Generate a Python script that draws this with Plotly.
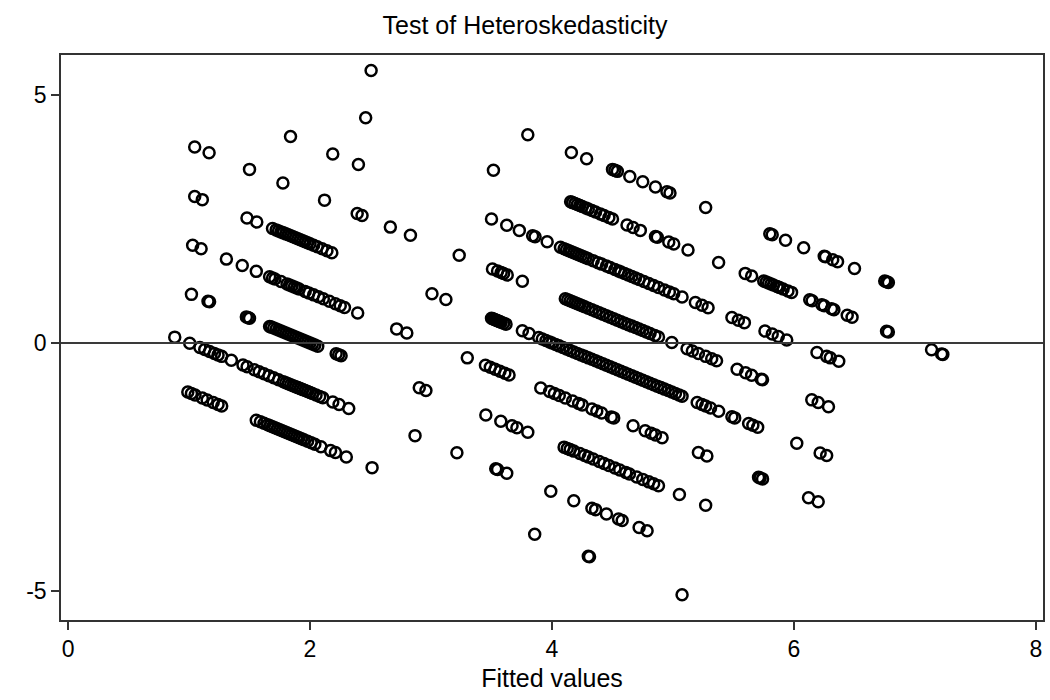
import plotly.graph_objects as go

# Fitted values grouped by observed outcome (residual = observed - fitted)
fit_obs8 = [2.505, 3.80, 4.16, 4.286, 4.50, 4.52, 4.54, 4.643, 4.75, 4.855, 4.95, 4.975, 5.27,
            5.80, 5.82, 5.93, 6.08, 6.25, 6.26, 6.32, 6.36, 6.50, 6.75, 6.765, 6.78]
fit_obs7 = [2.46, 3.516, 4.154, 4.17, 4.19, 4.21, 4.23, 4.25, 4.28, 4.30, 4.33, 4.36, 4.40, 4.43,
            4.47, 4.50, 4.62, 4.67, 4.73, 4.855, 4.87, 4.965, 5.006, 5.124, 5.377, 5.597, 5.65,
            5.75, 5.77, 5.79, 5.81, 5.83, 5.86, 5.88, 5.91, 5.95, 5.98, 6.13, 6.15, 6.23, 6.25,
            6.31, 6.33, 6.44, 6.48, 6.765, 6.78, 7.137, 7.22, 7.23]
fit_obs6 = [1.839, 2.188, 2.40, 3.50, 3.626, 3.73, 3.84, 3.86, 3.96,
            4.07, 4.10, 4.12, 4.14, 4.16, 4.18, 4.20, 4.22, 4.24, 4.26, 4.28, 4.30, 4.34, 4.38,
            4.41, 4.45, 4.48, 4.52, 4.55, 4.57, 4.60, 4.63, 4.66, 4.69, 4.72, 4.76, 4.80, 4.84,
            4.88, 4.93, 4.97, 5.006, 5.075, 5.185, 5.24, 5.29, 5.487, 5.54, 5.59,
            5.76, 5.82, 5.87, 5.94, 6.19, 6.27, 6.30, 6.37]
fit_obs5 = [1.047, 1.166, 1.50, 1.776, 2.12, 2.39, 2.43, 2.664, 2.83,
            3.233, 3.508, 3.55, 3.58, 3.60, 3.63, 3.755,
            4.11, 4.13, 4.15, 4.17, 4.19, 4.21, 4.23, 4.25, 4.27, 4.30, 4.33, 4.36, 4.39, 4.42,
            4.45, 4.48, 4.51, 4.54, 4.57, 4.60, 4.63, 4.66, 4.69, 4.72, 4.75, 4.78, 4.81, 4.85,
            4.88, 4.99, 5.116, 5.16, 5.21, 5.27, 5.32, 5.36, 5.53, 5.60, 5.65,
            5.73, 5.74, 6.147, 6.20, 6.285]
fit_obs4 = [1.047, 1.11, 1.479, 1.56,
            1.69, 1.72, 1.74, 1.76, 1.78, 1.80, 1.82, 1.84, 1.86, 1.88, 1.90, 1.92, 1.94, 1.96,
            1.98, 2.00, 2.03, 2.06, 2.10, 2.14, 2.18,
            3.008, 3.123, 3.50, 3.51, 3.52, 3.53, 3.54, 3.55, 3.56, 3.57, 3.58, 3.60, 3.62,
            3.755, 3.81, 3.89, 3.92, 3.95, 3.98, 4.00, 4.03,
            4.058, 4.09, 4.12, 4.15, 4.18, 4.21, 4.24, 4.27, 4.30, 4.33, 4.36, 4.39, 4.42, 4.45,
            4.48, 4.51, 4.54, 4.57, 4.60, 4.63, 4.66, 4.69, 4.72, 4.75, 4.78, 4.81, 4.84, 4.87,
            4.90, 4.93, 4.96, 4.99, 5.02, 5.05, 5.075,
            5.20, 5.24, 5.27, 5.31, 5.377, 5.487, 5.51, 5.625, 5.66, 5.70,
            6.023, 6.216, 6.27]
fit_obs3 = [1.03, 1.10, 1.309, 1.44, 1.556,
            1.666, 1.69, 1.71, 1.76, 1.81, 1.83, 1.85, 1.87, 1.89, 1.91, 1.96, 1.99, 2.03, 2.07,
            2.11, 2.16, 2.21, 2.25, 2.285, 2.394,
            2.716, 2.80, 3.30, 3.45, 3.49, 3.53, 3.57, 3.61, 3.645,
            3.907, 3.98, 4.02, 4.06, 4.11, 4.17, 4.22, 4.25, 4.33, 4.37, 4.41, 4.49, 4.51,
            4.67, 4.77, 4.82, 4.855, 4.91, 5.21, 5.28,
            5.707, 5.72, 5.74, 6.12, 6.20]
fit_obs2 = [1.02, 1.157, 1.17, 1.474, 1.49, 1.50,
            1.666, 1.68, 1.70, 1.72, 1.74, 1.76, 1.78, 1.80, 1.82, 1.84, 1.86, 1.88, 1.90, 1.92,
            1.94, 1.96, 1.98, 2.00, 2.02, 2.04, 2.064, 2.216, 2.237, 2.257,
            2.903, 2.958, 3.453, 3.577, 3.67, 3.71, 3.80,
            4.10, 4.126, 4.15, 4.18, 4.23, 4.27, 4.30, 4.34, 4.39, 4.43, 4.47, 4.52, 4.56, 4.61,
            4.64, 4.70, 4.75, 4.80, 4.84, 4.88, 5.053, 5.27]
fit_obs1 = [0.882, 1.006, 1.09, 1.13, 1.17, 1.21, 1.24, 1.27, 1.35,
            1.446, 1.48, 1.54, 1.58, 1.62, 1.66, 1.70, 1.74, 1.78, 1.80, 1.82, 1.84, 1.86, 1.88,
            1.90, 1.92, 1.94, 1.96, 1.98, 2.00, 2.02, 2.05, 2.08, 2.106, 2.188, 2.24, 2.32,
            2.868, 3.214, 3.535, 3.55, 3.626, 3.99, 4.18,
            4.33, 4.36, 4.45, 4.55, 4.58, 4.72, 4.786]
fit_obs0 = [0.99, 1.02, 1.05, 1.11, 1.15, 1.20, 1.24, 1.27,
            1.556, 1.59, 1.62, 1.65, 1.67, 1.69, 1.71, 1.73, 1.75, 1.77, 1.79, 1.81, 1.83, 1.85,
            1.87, 1.89, 1.91, 1.93, 1.95, 1.98, 2.01, 2.04, 2.09, 2.17, 2.21, 2.30,
            2.513, 3.857, 4.30, 4.31, 5.075]

groups = {8: fit_obs8, 7: fit_obs7, 6: fit_obs6, 5: fit_obs5, 4: fit_obs4,
          3: fit_obs3, 2: fit_obs2, 1: fit_obs1, 0: fit_obs0}

fitted = []
resid = []
for obs, fits in groups.items():
    for f in fits:
        fitted.append(f)
        resid.append(obs - f)

x_ticks = [0, 2, 4, 6, 8]
x_labels = ["0", "2", "4", "6", "8"]
y_ticks = [-5, 0, 5]
y_labels = ["-5", "0", "5"]

fig = go.Figure()
fig.add_trace(go.Scatter(
    x=fitted, y=resid, mode="markers",
    marker=dict(symbol="circle-open", size=11, color="black",
                line=dict(width=2.5, color="black")),
    showlegend=False, hoverinfo="skip"))

fig.add_shape(type="line", xref="paper", x0=0, x1=1, yref="y", y0=0, y1=0,
              line=dict(color="#3a3a3a", width=2))

font_family = "Liberation Sans, Arial, sans-serif"
fig.update_layout(
    width=1050, height=700,
    margin=dict(l=61, r=5, t=55, b=80),
    paper_bgcolor="white", plot_bgcolor="white",
    title=dict(text="Test of Heteroskedasticity", x=0.5, xanchor="center",
               y=0.964, yanchor="middle",
               font=dict(family=font_family, size=25, color="black")),
    font=dict(family=font_family, color="black"),
    xaxis=dict(range=[-0.058, 8.058], tickvals=x_ticks, ticktext=x_labels,
               ticks="outside", ticklen=8,
               tickwidth=1.5, tickcolor="#333", showgrid=False, zeroline=False,
               showline=True, linecolor="#333", linewidth=1.5, mirror=True,
               tickfont=dict(size=23, family=font_family, color="black"),
               title=dict(text="Fitted values", standoff=8,
                          font=dict(size=25, family=font_family, color="black"))),
    yaxis=dict(range=[-5.585, 5.806], tickvals=y_ticks, ticktext=y_labels,
               ticks="outside", ticklen=8,
               tickwidth=1.5, tickcolor="#333", showgrid=False, zeroline=False,
               showline=True, linecolor="#333", linewidth=1.5, mirror=True,
               tickfont=dict(size=23, family=font_family, color="black")),
)

fig.write_html("out.html")
